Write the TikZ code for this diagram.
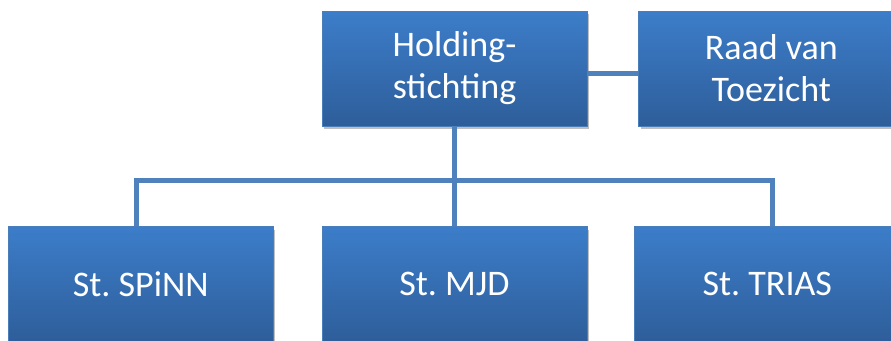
\documentclass[tikz,border=0pt]{standalone}
\usepackage{fontspec}
\setmainfont{Carlito}
\usepackage{tikz}
\usetikzlibrary{positioning,shadows}
\frenchspacing

\definecolor{boxtop}{HTML}{3C7DC9}
\definecolor{boxbottom}{HTML}{2E5E9A}
\definecolor{boxline}{HTML}{4A7EBB}
\definecolor{linkblue}{HTML}{4F81BD}

\begin{document}
\begin{tikzpicture}[
    x=1pt, y=1pt,
    node distance=100pt and 50pt,
    org/.style={draw=boxline, line width=0.8pt, rectangle, minimum width=265pt, minimum height=115pt, inner sep=0pt,
        align=center, top color=boxtop, bottom color=boxbottom, text=white,
        font=\fontsize{36}{42}\selectfont,
        drop shadow={shadow xshift=2pt, shadow yshift=-3pt, opacity=0.25, fill=black}},
    link/.style={draw=linkblue, line width=5pt}
]
    \useasboundingbox (0,0) rectangle (891,-340);

    \node[org] (holding) at (454.5,-68.5) {Holding-\\stichting};
    \node[org, right=51pt of holding] (raad) {Raad van\\Toezicht};

    \node[org, below=100pt of holding] (mjd) {St. MJD};
    \node[org, left=48pt of mjd] (spinn) {St. SPiNN};
    \node[org, right=47pt of mjd] (trias) {St. TRIAS};

    \coordinate (bus) at (0,-180);

    \draw[link] ([yshift=-5pt]holding.east) -- ([yshift=-5pt]raad.west);
    \draw[link] (holding.south) -- (mjd.north);
    \draw[link] ([xshift=-4pt]spinn.north) |- (bus -| holding.south) -| ([xshift=5pt]trias.north);
\end{tikzpicture}
\end{document}
